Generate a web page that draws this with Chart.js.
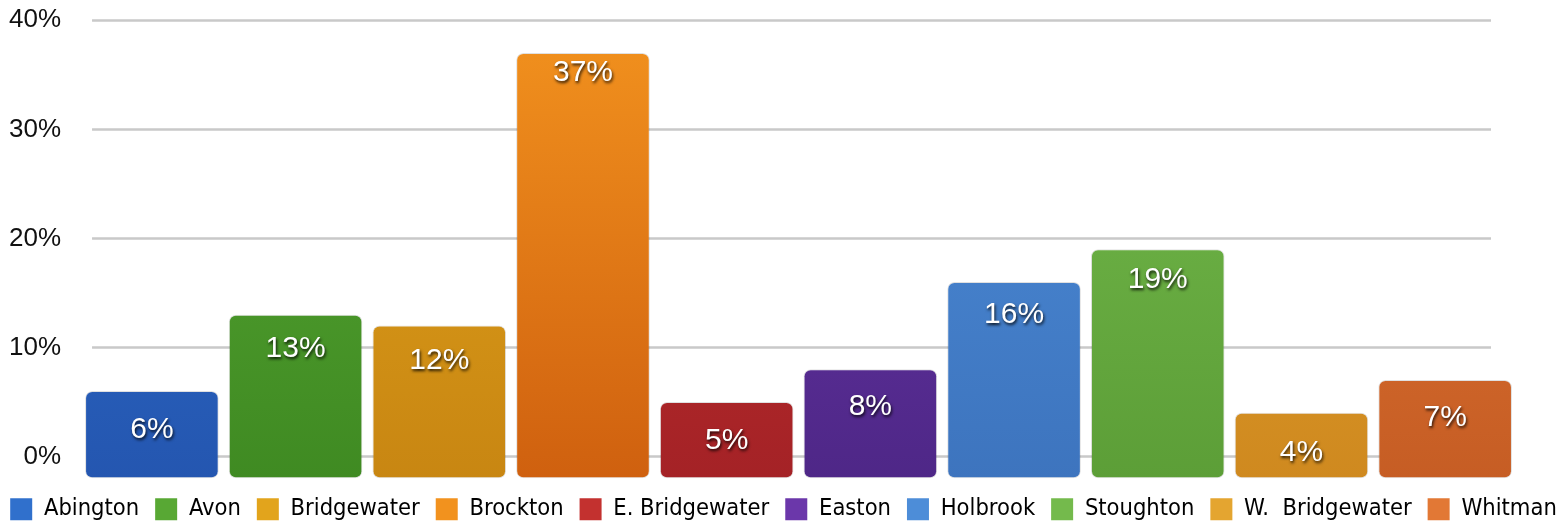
<!DOCTYPE html>
<html>
<head>
<meta charset="utf-8">
<script src="https://cdn.jsdelivr.net/npm/chart.js@4/dist/chart.umd.min.js"></script>
<style>
  html, body { margin: 0; padding: 0; background: #fff; }
  #wrap { width: 1567px; height: 531px; position: relative; }
</style>
</head>
<body>
<div id="wrap"><canvas id="grafico"></canvas></div>
<script>
// Dados
const cidades = ['Abington', 'Avon', 'Bridgewater', 'Brockton', 'E. Bridgewater', 'Easton', 'Holbrook', 'Stoughton', 'W.  Bridgewater', 'Whitman'];
const percentuais = [6, 13, 12, 37, 5, 8, 16, 19, 4, 7];
const ticksY = [0, 10, 20, 30, 40];

// Cores (topo / base de cada barra)
const corTopo = ['#3070cc', '#58a834', '#e2a41c', '#f2921e', '#c3312f', '#6b37aa', '#4d8dd8', '#74ba4c', '#e4a530', '#e27835'];
const corBase = ['#2456b0', '#3f8a22', '#c88612', '#cf600f', '#a42226', '#4e2787', '#3d74be', '#5c9e37', '#cf891f', '#c65d24'];

function gradiente(context) {
    const chart = context.chart;
    const area = chart.chartArea;
    const i = context.dataIndex;
    if (!area || i === undefined) return corTopo[0];
    const g = chart.ctx.createLinearGradient(0, area.top, 0, area.bottom);
    g.addColorStop(0, corTopo[i]);
    g.addColorStop(1, corBase[i]);
    return g;
}

// Linhas de grade desenhadas à mão (um pouco mais curtas que a área)
const gradePlugin = {
    id: 'grade',
    beforeDatasetsDraw(chart) {
        const { ctx, chartArea, scales } = chart;
        ctx.save();
        ctx.strokeStyle = '#c9c9c9';
        ctx.lineWidth = 2.5;
        ticksY.forEach(v => {
            const y = Math.round(scales.y.getPixelForValue(v)) + 0.5;
            ctx.beginPath();
            ctx.moveTo(chartArea.left + 12, y);
            ctx.lineTo(chartArea.right - 26, y);
            ctx.stroke();
        });
        ctx.restore();
    }
};

// Rótulos brancos dentro das barras (mais perto do topo nas barras altas)
const rotulosPlugin = {
    id: 'rotulos',
    afterDatasetsDraw(chart) {
        const { ctx } = chart;
        const meta = chart.getDatasetMeta(0);
        ctx.save();
        ctx.font = '30px "Liberation Sans", Arial, sans-serif';
        ctx.textAlign = 'center';
        ctx.textBaseline = 'middle';
        meta.data.forEach((bar, i) => {
            const txt = percentuais[i] + '%';
            const desloc = 42 - 0.6 * percentuais[i];
            ctx.shadowColor = 'rgba(0,0,0,0.85)';
            ctx.shadowBlur = 3;
            ctx.shadowOffsetX = 1;
            ctx.shadowOffsetY = 2;
            ctx.fillStyle = '#ffffff';
            ctx.fillText(txt, bar.x, bar.y + desloc);
        });
        ctx.restore();
    }
};

new Chart(document.getElementById('grafico'), {
    type: 'bar',
    data: {
        labels: cidades,
        datasets: [{
            data: percentuais,
            base: -2,
            backgroundColor: gradiente,
            borderColor: 'rgba(0,0,0,0.12)',
            borderWidth: 1,
            borderRadius: 7,
            borderSkipped: false,
            barPercentage: 0.93,
            categoryPercentage: 1
        }]
    },
    options: {
        responsive: true,
        maintainAspectRatio: false,
        animation: false,
        layout: { padding: { left: -10, right: -10, top: 0, bottom: 0 } },
        scales: {
            x: {
                display: false,
                grid: { display: false }
            },
            y: {
                min: -2.3,
                max: 40,
                grid: { display: false, drawTicks: false },
                border: { display: false },
                afterBuildTicks: axis => { axis.ticks = ticksY.map(v => ({ value: v })); },
                ticks: {
                    padding: 19,
                    color: '#111',
                    font: { family: '"Liberation Sans", Arial, sans-serif', size: 26, lineHeight: 0.1 },
                    callback: v => v + '%'
                }
            },
            // eixo vazio à direita, só para reservar margem
            margemDir: {
                position: 'right',
                display: true,
                grid: { display: false },
                border: { display: false },
                ticks: { display: false },
                afterFit: axis => { axis.width = 60; }
            }
        },
        plugins: {
            legend: {
                position: 'bottom',
                labels: {
                    boxWidth: 22,
                    boxHeight: 22,
                    padding: 16,
                    color: '#1a1a1a',
                    font: { family: '"DejaVu Sans Condensed", "DejaVu Sans", sans-serif', size: 23.5 },
                    generateLabels: chart => cidades.map((c, i) => ({
                        text: c,
                        fillStyle: corTopo[i],
                        strokeStyle: corTopo[i],
                        lineWidth: 0,
                        index: i
                    }))
                }
            },
            tooltip: { enabled: false }
        }
    },
    plugins: [gradePlugin, rotulosPlugin]
});
</script>
</body>
</html>
